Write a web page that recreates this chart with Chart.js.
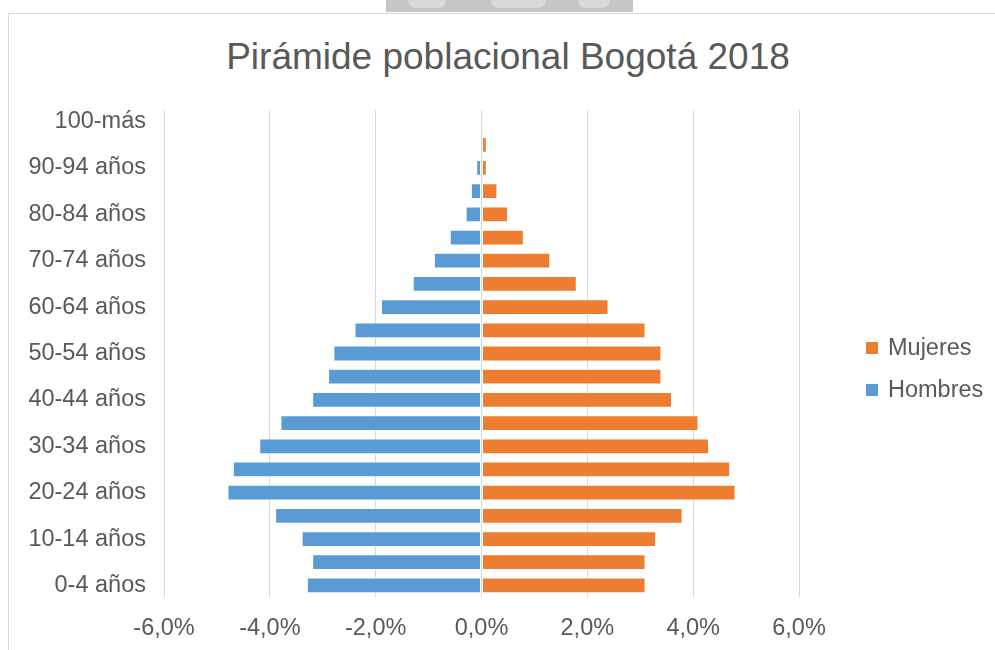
<!DOCTYPE html>
<html lang="es">
<head>
<meta charset="utf-8">
<title>Pirámide poblacional Bogotá 2018</title>
<script src="https://cdn.jsdelivr.net/npm/chart.js@4.4.1/dist/chart.umd.min.js"></script>
<style>
  html, body { margin: 0; padding: 0; background: #fff; }
  #wrap { position: relative; width: 995px; height: 650px; overflow: hidden; background: #fff;
          font-family: "Liberation Sans", Arial, sans-serif; color: #595959; }
  /* faint crest peeking in above the chart frame */
  #crest { position: absolute; left: 386px; top: 0; width: 247px; height: 12px; background: #c6c6c6; }
  #crest span { position: absolute; top: 0; height: 8px; background: #d9d9d9; border-radius: 0 0 40px 40px; }
  #frame { position: absolute; left: 8px; top: 13px; width: 1000px; height: 700px;
           border: 1px solid #d9d9d9; box-sizing: border-box; }
  #chart { position: absolute; left: 0; top: 0; }
  #titulo { position: absolute; left: 0; top: 35px; width: 1016px; text-align: center;
            font-size: 37px; line-height: 1.2; white-space: nowrap; }
  .legend { position: absolute; left: 866px; font-size: 23.5px; line-height: 1.2; }
  .legend i { display: inline-block; width: 12px; height: 12px; margin-right: 10px; vertical-align: 1px; }
</style>
</head>
<body>
<div id="wrap">
  <div id="crest"><span style="left:22px;width:38px"></span><span style="left:105px;width:55px"></span><span style="left:192px;width:32px"></span></div>
  <div id="frame"></div>
  <div id="titulo">Pirámide poblacional Bogotá 2018</div>
  <canvas id="chart" width="995" height="650"></canvas>
  <div class="legend" style="top:333px"><i style="background:#ED7D31"></i>Mujeres</div>
  <div class="legend" style="top:375px"><i style="background:#5B9BD5"></i>Hombres</div>
</div>
<script>
  // age groups, youngest first (drawn bottom-up)
  const grupos = [
    "0-4 años", "5-9 años", "10-14 años", "15-19 años", "20-24 años",
    "25-29 años", "30-34 años", "35-39 años", "40-44 años", "45-49 años",
    "50-54 años", "55-59 años", "60-64 años", "65-69 años", "70-74 años",
    "75-79 años", "80-84 años", "85-89 años", "90-94 años", "95-99 años", "100-más"
  ];

  // share of total population, %
  const hombres = [3.3, 3.2, 3.4, 3.9, 4.8, 4.7, 4.2, 3.8, 3.2, 2.9, 2.8, 2.4, 1.9, 1.3, 0.9, 0.6, 0.3, 0.2, 0.1, 0.0, 0.0];
  const mujeres = [3.1, 3.1, 3.3, 3.8, 4.8, 4.7, 4.3, 4.1, 3.6, 3.4, 3.4, 3.1, 2.4, 1.8, 1.3, 0.8, 0.5, 0.3, 0.1, 0.1, 0.0];

  const ejeX = [-6, -4, -2, 0, 2, 4, 6];

  const fuente = '"Liberation Sans", Arial, sans-serif';
  const gris = "#595959";

  const ctx = document.getElementById("chart").getContext("2d");
  new Chart(ctx, {
    type: "bar",
    data: {
      labels: grupos,
      datasets: [
        {
          label: "Hombres",
          data: hombres.map((v) => -v),
          backgroundColor: "#5B9BD5",
          borderColor: "rgba(255,255,255,0.55)",
          borderWidth: 1,
          borderSkipped: false,
        },
        {
          label: "Mujeres",
          data: mujeres,
          backgroundColor: "#ED7D31",
          borderColor: "rgba(255,255,255,0.55)",
          borderWidth: 1,
          borderSkipped: false,
        },
      ],
    },
    options: {
      indexAxis: "y",
      responsive: false,
      animation: false,
      datasets: { bar: { categoryPercentage: 1, barPercentage: 0.68 } },
      layout: { padding: { left: 20, right: 196, top: 110, bottom: 0 } },
      plugins: {
        legend: { display: false },
        tooltip: { enabled: false },
      },
      scales: {
        x: {
          stacked: true,
          min: ejeX[0],
          max: ejeX[ejeX.length - 1],
          afterBuildTicks: (axis) => {
            axis.ticks = ejeX.map((v) => ({ value: v }));
          },
          afterFit: (axis) => {
            axis.height = 53;
          },
          border: { display: false },
          grid: { color: "#d9d9d9", lineWidth: 1, drawTicks: false },
          ticks: {
            padding: 17,
            color: gris,
            font: { family: fuente, size: 23.5 },
            callback: (v) => v.toFixed(1).replace(".", ",") + "%",
          },
        },
        y: {
          stacked: true,
          reverse: true,
          afterFit: (axis) => {
            axis.width = 144;
          },
          border: { display: false },
          grid: { display: false, drawTicks: false },
          ticks: {
            autoSkip: false,
            padding: 18,
            color: gris,
            font: { family: fuente, size: 23.5 },
            // every second age group is labelled
            callback: function (v, i) {
              return i % 2 === 0 ? this.getLabelForValue(v) : "";
            },
          },
        },
      },
    },
  });
</script>
</body>
</html>
